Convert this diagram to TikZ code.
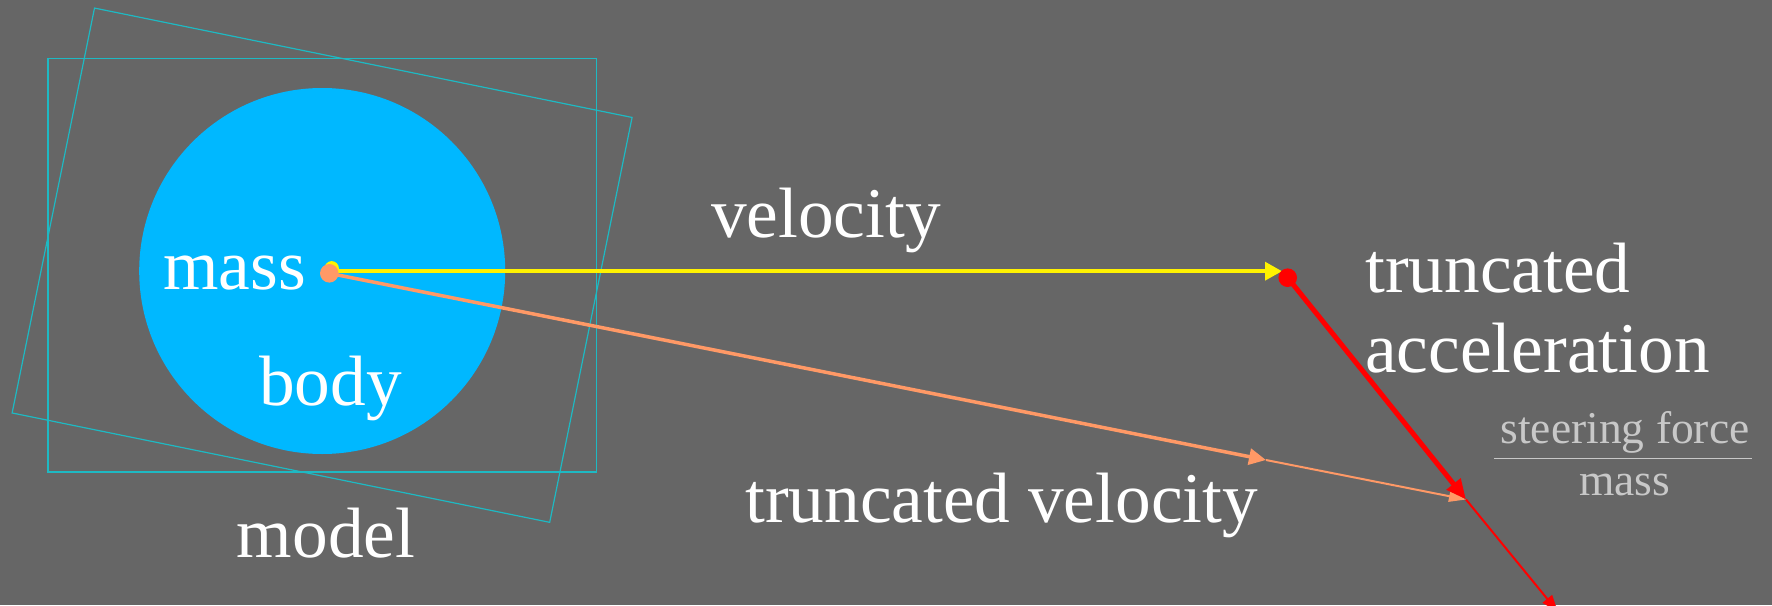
\documentclass[tikz,border=0pt]{standalone}
\usepackage{fontspec}
\setmainfont{Liberation Serif}
\usetikzlibrary{arrows.meta}
\definecolor{bg}{RGB}{102,102,102}
\definecolor{bodyblue}{RGB}{0,184,255}
\definecolor{frame}{RGB}{30,185,195}
\definecolor{vorange}{RGB}{255,153,102}
\definecolor{lightgray}{RGB}{200,200,200}
\begin{document}
\begin{tikzpicture}[x=1pt,y=-1pt,
  bigtext/.style={text=white,font=\fontsize{71.3}{85}\selectfont,inner sep=0pt},
  smalltext/.style={text=lightgray,font=\fontsize{45.5}{54}\selectfont,inner sep=0pt},
  framebox/.style={draw=frame,line width=1.5pt},
  vel/.style={draw=yellow,line width=3.5pt,-{Triangle[length=17pt,width=18pt]}},
  tvel/.style={draw=vorange,line width=3.5pt,-{Triangle[length=17pt,width=16pt]}},
  tvelrest/.style={draw=vorange,line width=2pt,-{Triangle[length=17pt,width=11pt]}},
  acc/.style={draw=red,line width=5pt,-{Triangle[length=20pt,width=17pt]}},
  accrest/.style={draw=red,line width=2pt,-{Triangle[length=17pt,width=12pt]}}]
\fill[bg] (0,0) rectangle (1772,605);
\useasboundingbox (0,0) rectangle (1772,605);
% model frames
\coordinate (c) at (322.1,265.2);
\draw[framebox] (47.8,58.6) rectangle (596.4,471.8);
\draw[framebox,line width=1.2pt,rotate around={-11.5:(c)}] (47.8,58.6) rectangle (596.4,471.8);
% body
\fill[bodyblue] (322.2,271) circle (183);
% points
\coordinate (m) at (331,271.2);
\coordinate (mo) at (329.3,273.3);
\coordinate (v) at (1282,271.2);
\coordinate (rd) at (1287.7,277.7);
\coordinate (tv) at (1266,460);
\coordinate (sum) at (1466,499.5);
\coordinate (ae) at (1558,612);
% arrows
\draw[vel] (m) -- (v);
\fill[yellow] (331.7,268.3) circle (7.2);
\draw[tvel] (mo) -- (tv);
\draw[tvelrest] (tv) -- (sum);
\fill[vorange] (mo) circle (9.3);
\draw[acc] (rd) -- (sum);
\draw[accrest] (sum) -- (ae);
\fill[red] (rd) circle (9.3);
% labels
\node[bigtext,anchor=base west] (lmass) at (163,289.8) {mass};
\node[bigtext,anchor=base west] (lbody) at (259,405.5) {body};
\node[bigtext,anchor=base] (lmodel) at (326,557.5) {model};
\node[bigtext,anchor=base west] (lvel) at (711,237) {velocity};
\node[bigtext,anchor=base west] (ltvel) at (745,522.5) {truncated velocity};
\node[bigtext,anchor=base west] (ltr) at (1365,292.5) {truncated};
\node[bigtext,anchor=base west] (lacc) at (1365,372.5) {acceleration};
\node[smalltext,anchor=base] (lsf) at (1625,443.5) {steering force};
\node[smalltext,anchor=base] (lm2) at (1624.5,495.5) {mass};
\coordinate (fl) at (1494.3,458.3);
\coordinate (fr) at (1752.3,458.3);
\draw[lightgray,line width=1.3pt] (fl) -- (fr);
\end{tikzpicture}
\end{document}
